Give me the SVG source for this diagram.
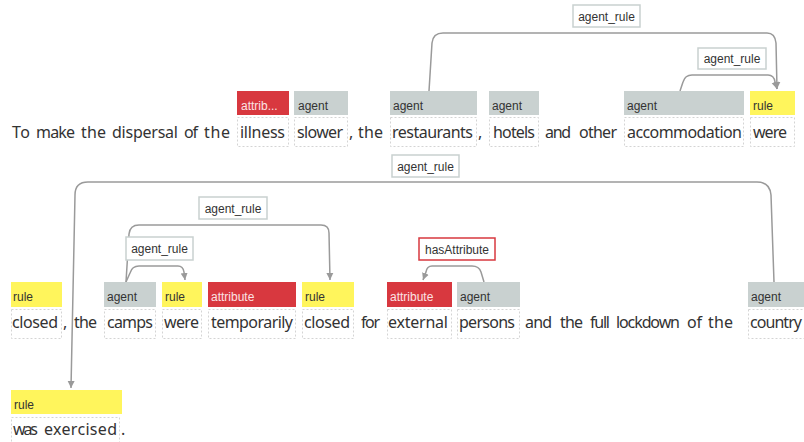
<svg xmlns="http://www.w3.org/2000/svg" width="804" height="442" viewBox="0 0 804 442">
<style>
.w{font-family:"Noto Sans","Liberation Sans",sans-serif;font-size:16px;fill:#333}
.lb{font-family:"Liberation Sans","Noto Sans",sans-serif;font-size:12px;fill:#333}
.lbw{font-family:"Liberation Sans","Noto Sans",sans-serif;font-size:12px;fill:#fbe3e4}
.ag{fill:#c9d1d0}
.ru{fill:#fff55c}
.at{fill:#d8383f}
.wb{fill:none;stroke:#d4d4d4;stroke-width:1;stroke-dasharray:2,2}
.arc{fill:none;stroke:#9a9a9a;stroke-width:1.5}
.al{fill:#fff;stroke:#c9d1d0;stroke-width:1.5}
.alr{fill:#fff;stroke:#d8383f;stroke-width:1.5}
.alt{font-family:"Liberation Sans","Noto Sans",sans-serif;font-size:12px;fill:#333;text-anchor:middle}
</style>
<defs>
<marker id="ah" markerWidth="8" markerHeight="8" refX="7" refY="4" orient="auto" markerUnits="userSpaceOnUse">
<path d="M0,0.5 L7,4 L0,7.5 Z" fill="#9a9a9a"/>
</marker>
</defs>
<rect width="804" height="442" fill="#fff"/>

<g id="connectors">
<path class="arc" marker-end="url(#ah)" d="M429,91 L432,43 Q433,33 443,33 L767,33 Q775,33 776,43 L777,89"/>
<path class="arc" marker-end="url(#ah)" d="M680,91 L683,82 Q685,75 692,75 L768,75 Q774,75 775,82 L777,89"/>
<path class="arc" marker-end="url(#ah)" d="M774,282 L771,195 Q770,182 757,182 L88,182 Q75,182 75,195 L71,388"/>
<path class="arc" marker-end="url(#ah)" d="M126,282 L129,234 Q130,225 139,225 L321,225 Q329,225 329,233 L330,280"/>
<path class="arc" marker-end="url(#ah)" d="M126,282 L130,273 Q132,266 139,266 L178,266 Q183,266 184,272 L185,280"/>
<path class="arc" marker-end="url(#ah)" d="M484,282 L481,272 Q479,266 472,266 L432,266 Q427,266 426,272 L423,280"/>
<g id="arc-labels">
<rect class="al" x="573" y="5" width="67" height="22"/><text class="alt" x="606.5" y="20.5">agent_rule</text>
<rect class="al" x="698" y="48" width="68" height="21"/><text class="alt" x="732" y="63">agent_rule</text>
<rect class="al" x="392" y="155" width="67" height="22"/><text class="alt" x="425.5" y="170.5">agent_rule</text>
<rect class="al" x="199" y="197" width="68" height="22"/><text class="alt" x="233" y="212.5">agent_rule</text>
<rect class="al" x="126" y="237" width="67" height="23"/><text class="alt" x="159.5" y="253">agent_rule</text>
<rect class="alr" x="419" y="238" width="76" height="22"/><text class="alt" x="457" y="253.5">hasAttribute</text>
</g>
</g>

<g id="row1">
<text class="w" x="12" y="138" textLength="18">To</text>
<text class="w" x="36" y="138" textLength="39">make</text>
<text class="w" x="81" y="138" textLength="25">the</text>
<text class="w" x="112" y="138" textLength="66">dispersal</text>
<text class="w" x="184" y="138" textLength="14">of</text>
<text class="w" x="204" y="138" textLength="26">the</text>
<text class="w" x="349" y="138">,</text>
<text class="w" x="358" y="138" textLength="25">the</text>
<text class="w" x="478" y="138">,</text>
<text class="w" x="545" y="138" textLength="26">and</text>
<text class="w" x="579" y="138" textLength="38">other</text>
</g>
<g id="n-illness">
<rect class="at" x="237" y="91" width="52" height="24"/>
<text class="lbw" x="241" y="110">attrib...</text>
<rect class="wb" x="237.5" y="117.5" width="51" height="29"/>
<text class="w" x="240" y="138" textLength="45">illness</text>
</g>
<g id="n-slower">
<rect class="ag" x="294" y="91" width="54" height="24"/>
<text class="lb" x="298" y="110">agent</text>
<rect class="wb" x="294.5" y="117.5" width="53" height="29"/>
<text class="w" x="297" y="138" textLength="46">slower</text>
</g>
<g id="n-restaurants">
<rect class="ag" x="390" y="91" width="87" height="24"/>
<text class="lb" x="393" y="110">agent</text>
<rect class="wb" x="390.5" y="117.5" width="86" height="29"/>
<text class="w" x="392" y="138" textLength="81">restaurants</text>
</g>
<g id="n-hotels">
<rect class="ag" x="489" y="91" width="50" height="24"/>
<text class="lb" x="492" y="110">agent</text>
<rect class="wb" x="489.5" y="117.5" width="49" height="29"/>
<text class="w" x="493" y="138" textLength="42">hotels</text>
</g>
<g id="n-accommodation">
<rect class="ag" x="624" y="91" width="120" height="24"/>
<text class="lb" x="627" y="110">agent</text>
<rect class="wb" x="624.5" y="117.5" width="119" height="29"/>
<text class="w" x="627" y="138" textLength="115">accommodation</text>
</g>
<g id="n-were1">
<rect class="ru" x="750" y="91" width="45" height="24"/>
<text class="lb" x="753" y="110">rule</text>
<rect class="wb" x="750.5" y="117.5" width="44" height="29"/>
<text class="w" x="753" y="138" textLength="34">were</text>
</g>

<g id="row2">
<text class="w" x="63" y="328">,</text>
<text class="w" x="74" y="328" textLength="23">the</text>
<text class="w" x="361" y="328" textLength="19">for</text>
<text class="w" x="525" y="328" textLength="27">and</text>
<text class="w" x="560" y="328" textLength="23">the</text>
<text class="w" x="590" y="328" textLength="20">full</text>
<text class="w" x="616" y="328" textLength="64">lockdown</text>
<text class="w" x="687" y="328" textLength="15">of</text>
<text class="w" x="708" y="328" textLength="25">the</text>
</g>
<g id="n-closed1">
<rect class="ru" x="11" y="282" width="51" height="25"/>
<text class="lb" x="13" y="301">rule</text>
<rect class="wb" x="11.5" y="309.5" width="50" height="29"/>
<text class="w" x="12" y="328" textLength="46">closed</text>
</g>
<g id="n-camps">
<rect class="ag" x="104" y="282" width="52" height="25"/>
<text class="lb" x="107" y="301">agent</text>
<rect class="wb" x="104.5" y="309.5" width="51" height="29"/>
<text class="w" x="107" y="328" textLength="46">camps</text>
</g>
<g id="n-were2">
<rect class="ru" x="162" y="282" width="40" height="25"/>
<text class="lb" x="165" y="301">rule</text>
<rect class="wb" x="162.5" y="309.5" width="39" height="29"/>
<text class="w" x="164" y="328" textLength="35">were</text>
</g>
<g id="n-temporarily">
<rect class="at" x="208" y="282" width="88" height="25"/>
<text class="lbw" x="211" y="301">attribute</text>
<rect class="wb" x="208.5" y="309.5" width="87" height="29"/>
<text class="w" x="211" y="328" textLength="82">temporarily</text>
</g>
<g id="n-closed2">
<rect class="ru" x="302" y="282" width="52" height="25"/>
<text class="lb" x="305" y="301">rule</text>
<rect class="wb" x="302.5" y="309.5" width="51" height="29"/>
<text class="w" x="304" y="328" textLength="46">closed</text>
</g>
<g id="n-external">
<rect class="at" x="387" y="282" width="65" height="25"/>
<text class="lbw" x="390" y="301">attribute</text>
<rect class="wb" x="387.5" y="309.5" width="64" height="29"/>
<text class="w" x="388" y="328" textLength="60">external</text>
</g>
<g id="n-persons">
<rect class="ag" x="457" y="282" width="63" height="25"/>
<text class="lb" x="460" y="301">agent</text>
<rect class="wb" x="457.5" y="309.5" width="62" height="29"/>
<text class="w" x="459" y="328" textLength="56">persons</text>
</g>
<g id="n-country">
<rect class="ag" x="748" y="282" width="60" height="25"/>
<text class="lb" x="751" y="301">agent</text>
<rect class="wb" x="748.5" y="309.5" width="60" height="29"/>
<text class="w" x="750" y="328" textLength="52">country</text>
</g>

<g id="n-exercised">
<rect class="ru" x="11" y="390" width="111" height="24"/>
<text class="lb" x="14" y="409">rule</text>
<rect class="wb" x="11.5" y="417.5" width="108" height="26"/>
<text class="w" x="13" y="435" textLength="25">was</text>
<text class="w" x="44" y="435" textLength="73">exercised</text>
<text class="w" x="121" y="435">.</text>
</g>
</svg>
